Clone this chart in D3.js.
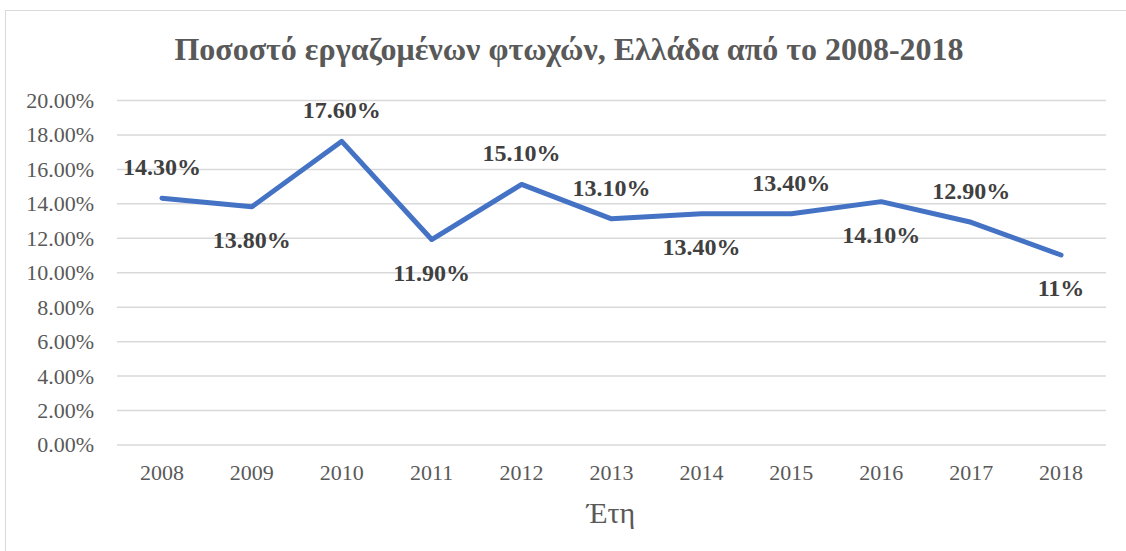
<!DOCTYPE html>
<html><head><meta charset="utf-8">
<script src="https://cdn.jsdelivr.net/npm/d3@7"></script>
<style>body{margin:0;background:#fff}svg{display:block}</style>
</head><body>
<svg id="c" width="1126" height="551"></svg>
<script>
const years = ["2008","2009","2010","2011","2012","2013","2014","2015","2016","2017","2018"];
const values = [14.3,13.8,17.6,11.9,15.1,13.1,13.4,13.4,14.1,12.9,11];
const labels = ["14.30%","13.80%","17.60%","11.90%","15.10%","13.10%","13.40%","13.40%","14.10%","12.90%","11%"];
const labelPos = ["above","below","above","below","above","above","below","above","below","above","below"];
const yTicks = [0,2,4,6,8,10,12,14,16,18,20];

const FONT = "Liberation Serif, Tinos, Times New Roman, serif";
const svg = d3.select("#c");
const m = {l:117, r:1106, t:100, b:444.5};
svg.append("rect").attr("x",5.5).attr("y",10.5).attr("width",1130).attr("height",560)
  .attr("fill","#fff").attr("stroke","#d9d9d9").attr("stroke-width",1);

const x = d3.scaleBand().domain(years).range([m.l,m.r]);
const y = d3.scaleLinear().domain([0,20]).range([m.b,m.t]);

svg.append("text").attr("x",569).attr("y",60).attr("text-anchor","middle")
  .style("font-family",FONT)
  .attr("font-size",32).attr("font-weight","bold").attr("fill","#595959")
  .text("Ποσοστό εργαζομένων φτωχών, Ελλάδα από το 2008-2018");

const yAxis = svg.append("g").attr("transform",`translate(${m.l},0)`)
  .call(d3.axisLeft(y).tickValues(yTicks).tickSize(-(m.r-m.l)).tickFormat(d=>d.toFixed(2)+"%"));
yAxis.select(".domain").remove();
yAxis.selectAll(".tick line").attr("stroke","#d9d9d9").attr("stroke-width",1.5);
yAxis.selectAll(".tick text").attr("x",-23).attr("dy","0.34em").attr("font-size",22).attr("fill","#595959")
  .style("font-family",FONT);

const xAxis = svg.append("g").attr("transform",`translate(0,${m.b})`)
  .call(d3.axisBottom(x).tickSize(0));
xAxis.select(".domain").remove();
xAxis.selectAll(".tick text").attr("dy",0).attr("y",35.5).attr("font-size",22).attr("fill","#595959")
  .style("font-family",FONT);

svg.append("text").attr("x",611).attr("y",523).attr("text-anchor","middle")
  .style("font-family",FONT)
  .attr("font-size",30).attr("fill","#595959").text("Έτη");

const cx = d => x(d)+x.bandwidth()/2;
const line = d3.line().x((d,i)=>cx(years[i])).y(d=>y(d));
svg.append("path").datum(values).attr("d",line).attr("fill","none")
  .attr("stroke","#4472C4").attr("stroke-width",5).attr("stroke-linejoin","round").attr("stroke-linecap","round");

svg.selectAll(".lbl").data(values).enter().append("text")
  .attr("x",(d,i)=>cx(years[i]))
  .attr("y",(d,i)=>labelPos[i]==="above" ? y(d)-23 : y(d)+41)
  .style("font-family",FONT)
  .attr("text-anchor","middle").attr("font-size",24).attr("font-weight","bold").attr("fill","#404040")
  .text((d,i)=>labels[i]);
</script>
</body></html>
